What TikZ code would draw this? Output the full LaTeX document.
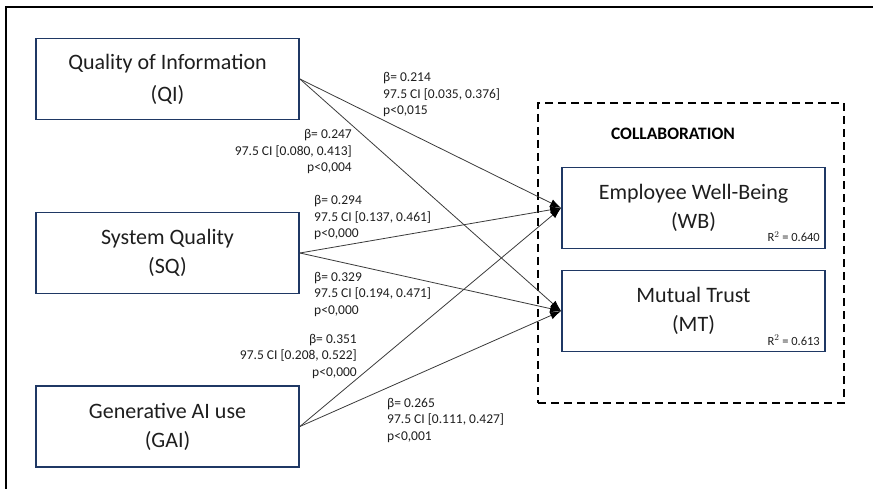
\documentclass[tikz,border=0pt]{standalone}
\usepackage{fontspec}
\setmainfont{Carlito}
\usetikzlibrary{arrows.meta}
\definecolor{boxblue}{HTML}{1F3864}
\definecolor{ink}{HTML}{1E1E1E}
\definecolor{pathgray}{HTML}{3A3A3A}

\begin{document}
\begin{tikzpicture}[x=1pt,y=-1pt]
    \tikzstyle{construct}=[draw=boxblue,line width=1.8pt,minimum width=263pt,minimum height=81pt,align=center,text=ink,font=\fontsize{22}{29}\selectfont]
    \tikzstyle{relation}=[draw=pathgray,line width=0.8pt,-{Latex[length=11pt,width=8pt,color=black]}]
    \tikzstyle{coef}=[inner sep=0pt,text=ink,font=\fontsize{13.5}{16.5}\selectfont]
    \tikzstyle{rsq}=[inner sep=0pt,text=ink,font=\fontsize{12.5}{15}\selectfont]

    \useasboundingbox (0,0) rectangle (873,489);
    \draw[line width=2pt,black] (6,489) -- (6,7) -- (873,7);

    % exogenous constructs
    \node[construct,font=\fontsize{22}{32}\selectfont] at (167.5,79) (QI) {Quality of Information\\(QI)};
    \node[construct] at (167.5,253) (SQ) {System Quality\\(SQ)};
    \node[construct] at (167.5,426.5) (GAI) {Generative AI use\\(GAI)};

    % collaboration block
    \node[draw=black,line width=1.5pt,dash pattern=on 8pt off 5pt,minimum width=306pt,minimum height=300pt] at (691,253) (collab) {};
    \node[text=black,font=\fontsize{17.5}{20}\selectfont\bfseries] at (673,134) (collabtitle) {COLLABORATION};
    \node[construct] at (693.5,208) (WB) {Employee Well-Being\\(WB)};
    \node[construct] at (693.5,311) (MT) {Mutual Trust\\(MT)};
    \node[rsq,anchor=base east] at (820,242) (rWB) {R$^{2}$ = 0.640};
    \node[rsq,anchor=base east] at (820,345) (rMT) {R$^{2}$ = 0.613};

    \draw[relation] (QI.east) -- (WB.west);
    \draw[relation] (QI.east) -- (MT.west);
    \draw[relation] (SQ.east) -- (WB.west);
    \draw[relation] (SQ.east) -- (MT.west);
    \draw[relation] (GAI.east) -- (WB.west);
    \draw[relation] (GAI.east) -- (MT.west);

    % path coefficients (base = last line)
    \node[coef,align=left,anchor=base west] at (383,115) (cQIWB) {β= 0.214\\97.5 CI [0.035, 0.376]\\p<0,015};
    \node[coef,align=right,anchor=base east] at (352,172) (cQIMT) {β= 0.247\\97.5 CI [0.080, 0.413]\\p<0,004};
    \node[coef,align=left,anchor=base west] at (314,238) (cSQWB) {β= 0.294\\97.5 CI [0.137, 0.461]\\p<0,000};
    \node[coef,align=left,anchor=base west] at (314,314) (cSQMT) {β= 0.329\\97.5 CI [0.194, 0.471]\\p<0,000};
    \node[coef,align=right,anchor=base east] at (357,376) (cGAIWB) {β= 0.351\\97.5 CI [0.208, 0.522]\\p<0,000};
    \node[coef,align=left,anchor=base west] at (387,440) (cGAIMT) {β= 0.265\\97.5 CI [0.111, 0.427]\\p<0,001};
\end{tikzpicture}
\end{document}
